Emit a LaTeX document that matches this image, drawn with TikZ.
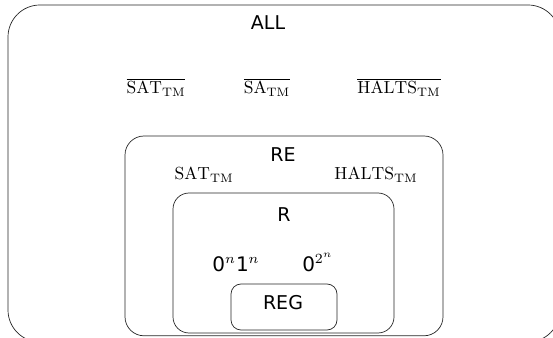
\documentclass[tikz,border=0pt]{standalone}
\usepackage{fontspec}
\newfontfamily\dejavu{DejaVu Sans}
\newcommand{\enlargelab}[1]{\scalebox{1.75}{#1}}
\newcommand{\enlargedig}[1]{\scalebox{2}{#1}}
\begin{document}
\begin{tikzpicture}[x=1pt,y=1pt,
  setbox/.style={draw=black!85, line width=0.7pt},
  sanslab/.style={font=\dejavu\fontsize{19}{22}\selectfont, inner sep=0pt, anchor=base},
  mathlab/.style={inner sep=0pt, anchor=base}]
\useasboundingbox (0,0) rectangle (553,337);
\clip (0,0) rectangle (553,337);
% sets
\draw[setbox, rounded corners=32pt] (8,-5) rectangle (560,332);
\draw[setbox, rounded corners=19pt] (125,1.2) rectangle (443,201);
\draw[setbox, rounded corners=16pt] (173,4) rectangle (394,144);
\draw[setbox, rounded corners=10pt] (231,7) rectangle (337,53);
% labels
\node[sanslab] (all) at (268,307) {ALL};
\node[mathlab] (nsat) at (156,243) {\enlargelab{$\overline{\mathrm{SAT}_{\mathrm{TM}}}$}};
\node[mathlab] (nsa) at (267,243) {\enlargelab{$\overline{\mathrm{SA}_{\mathrm{TM}}}$}};
\node[mathlab] (nhalts) at (399,243) {\enlargelab{$\overline{\mathrm{HALTS}_{\mathrm{TM}}}$}};
\node[sanslab] (re) at (283,175) {RE};
\node[mathlab] (sat) at (204,157) {\enlargelab{$\mathrm{SAT}_{\mathrm{TM}}$}};
\node[mathlab] (halts) at (376,157) {\enlargelab{$\mathrm{HALTS}_{\mathrm{TM}}$}};
\node[sanslab] (r) at (284,115) {R};
\node[mathlab] (l1) at (236,66) {\enlargedig{\dejavu 0$^{n}$1$^{n}$}};
\node[mathlab] (l2) at (318,66) {\enlargedig{\dejavu 0$^{2^{n}}$}};
\node[sanslab] (reg) at (283,28) {REG};
\end{tikzpicture}
\end{document}
